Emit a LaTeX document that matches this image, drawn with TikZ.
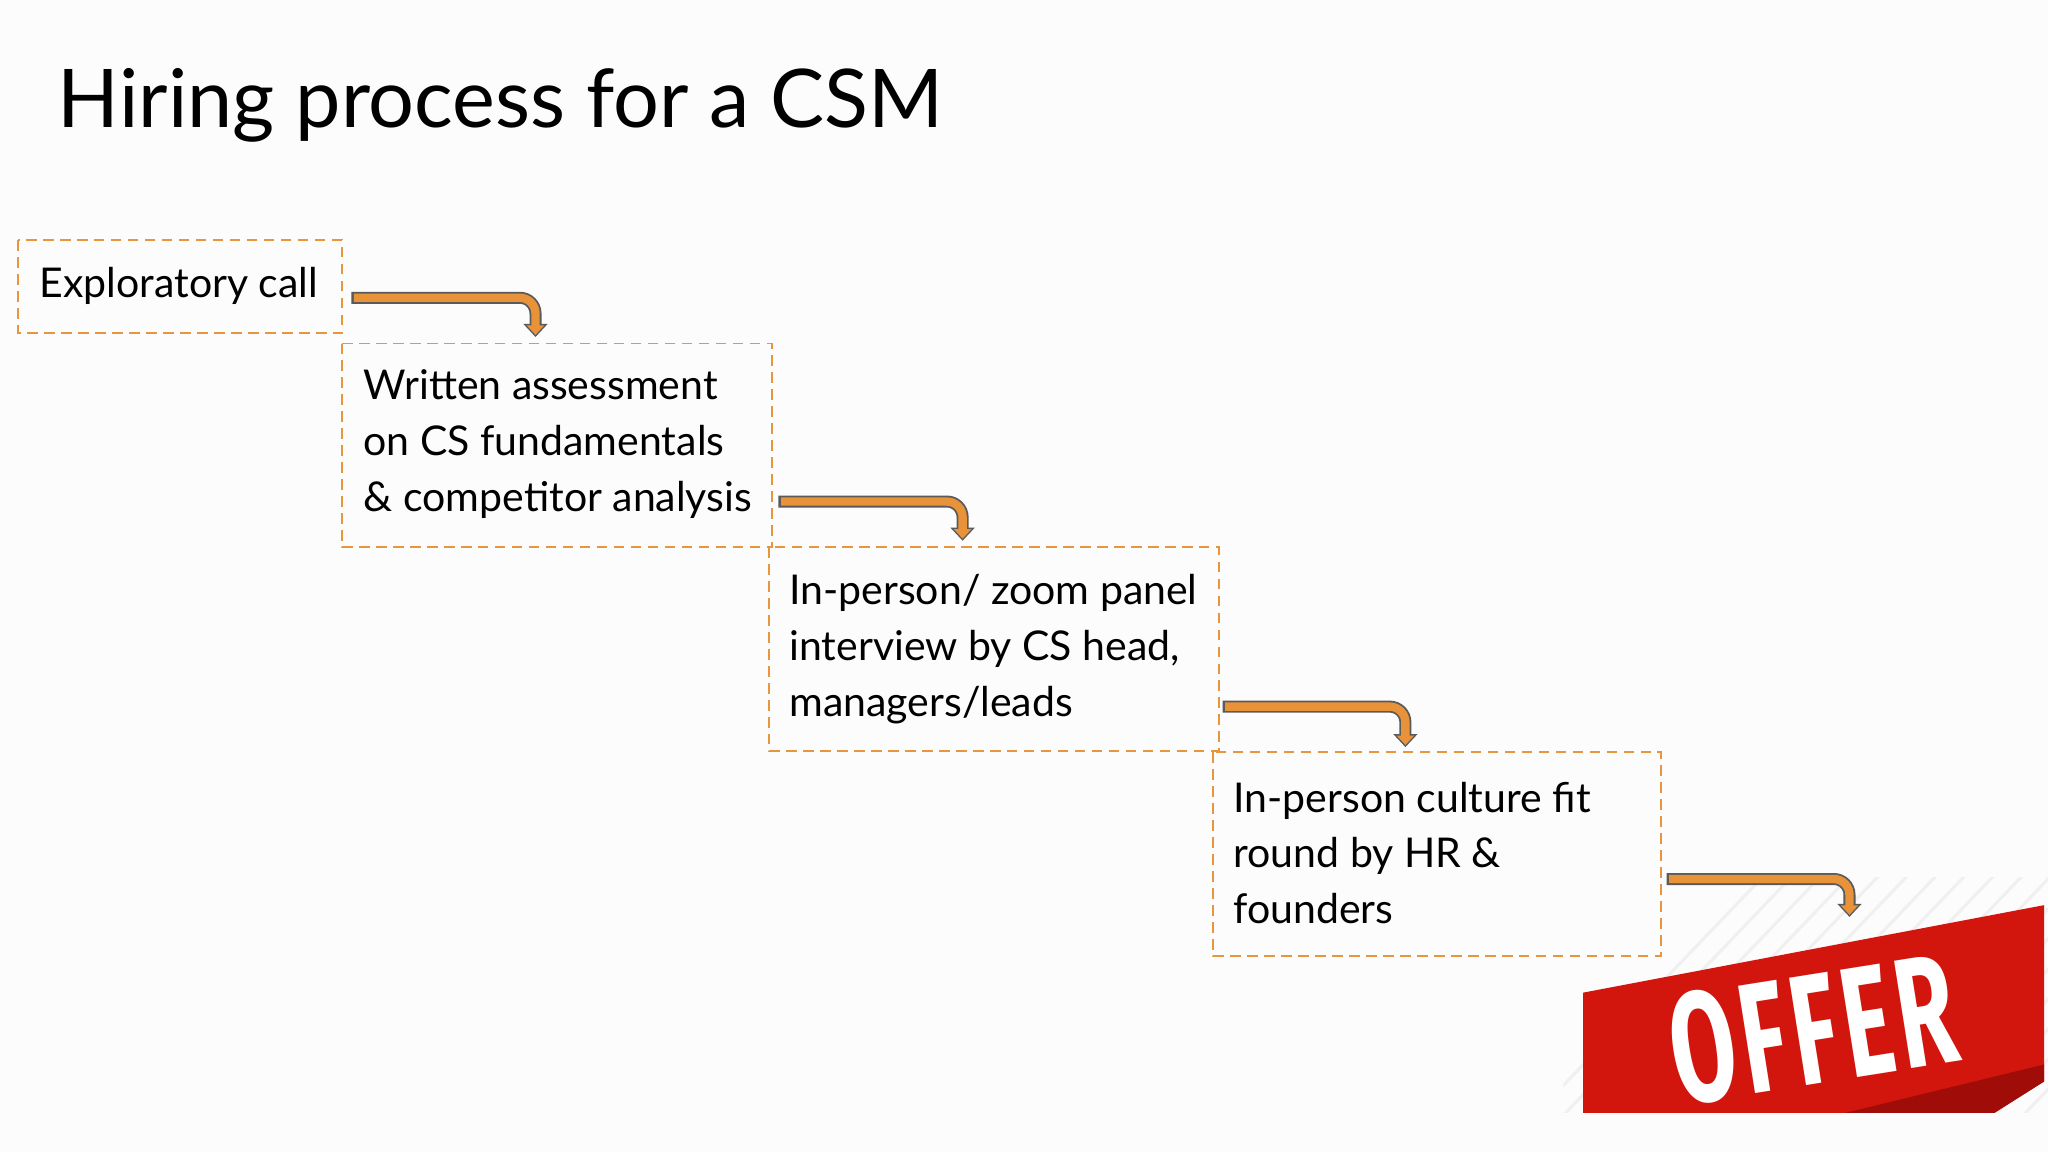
\documentclass[tikz,border=0pt]{standalone}
\usepackage{fontspec}
\setmainfont{Lato}
\newfontfamily\offerfont[LetterSpace=6]{Fira Sans}
\usetikzlibrary{arrows.meta}
\definecolor{dorange}{RGB}{232,150,62}
\definecolor{aorange}{RGB}{232,146,58}
\definecolor{agray}{RGB}{90,90,90}
\definecolor{bred}{RGB}{210,22,14}
\definecolor{dred}{RGB}{160,12,8}
\tikzset{
 stepbox/.style={draw=dorange, dashed, dash pattern=on 4pt off 2.5pt, line width=0.7pt},
 steptext/.style={anchor=west, align=left, font=\fontsize{15.7}{21.3}\selectfont, inner sep=0pt},
 outerarr/.style={draw=agray, line width=4.6pt, rounded corners=6pt, -{Triangle[length=5pt,width=9pt]}},
 innerarr/.style={draw=aorange, line width=3.2pt, rounded corners=6pt, -{Triangle[length=3.6pt,width=6.4pt]}, shorten >=0.8pt}
}
\begin{document}
\begin{tikzpicture}[x=0.5pt,y=-0.5pt]
\fill[white!98!gray] (0,0) rectangle (1568,882);
\useasboundingbox (0,0) rectangle (1568,882);
\node[anchor=base west, inner sep=0pt, font=\fontsize{31}{38}\selectfont] (title) at (44,98) {Hiring process for a CSM};
% boxes
\draw[stepbox] (14,184) rectangle (262,255);
\draw[stepbox] (262,263) rectangle (591,419);
\draw[stepbox] (589,419) rectangle (933,575);
\draw[stepbox] (929,576) rectangle (1272,732);
\node[steptext] (t1) at (30,219) {Exploratory call};
\node[steptext] (t2) at (278,340) {Written assessment\\on CS fundamentals\\\& competitor analysis};
\node[steptext] (t3) at (604,497) {In-person/ zoom panel\\interview by CS head,\\managers/leads};
\node[steptext] (t4) at (944,653) {In-person culture fit\\round by HR \&\\founders};
% offer banner background
\begin{scope}
\clip (1197,672) rectangle (1568,852);
\foreach \i in {0,...,40} {
 \draw[gray!12, line width=1.2pt] (1150+\i*22,880) -- (1150+\i*22+220,650);
}
\end{scope}
\fill[bred] (1212,760) -- (1565,693) -- (1565,828) -- (1527,852) -- (1212,852) -- cycle;
\fill[dred] (1413,852) -- (1565,815) -- (1565,828) -- (1527,852) -- cycle;
\node[font=\offerfont\bfseries\fontsize{60}{60}\selectfont, text=white, rotate=9, xscale=0.6, inner sep=0pt] (offer) at (1388,788) {OFFER};
% arrows
\coordinate (a1s) at (269,228); \coordinate (a1c) at (410,228); \coordinate (a1e) at (410,258);
\coordinate (a2s) at (596,384); \coordinate (a2c) at (737,384); \coordinate (a2e) at (737,414);
\coordinate (a3s) at (936,541); \coordinate (a3c) at (1076,541); \coordinate (a3e) at (1076,572);
\coordinate (a4s) at (1276,673); \coordinate (a4c) at (1416,673); \coordinate (a4e) at (1416,702);
\foreach \a in {a1,a2,a3,a4} {
 \draw[outerarr] (\a s) -- (\a c) -- (\a e);
 \draw[innerarr] ([xshift=1pt]\a s) -- (\a c) -- (\a e);
}
\end{tikzpicture}
\end{document}
